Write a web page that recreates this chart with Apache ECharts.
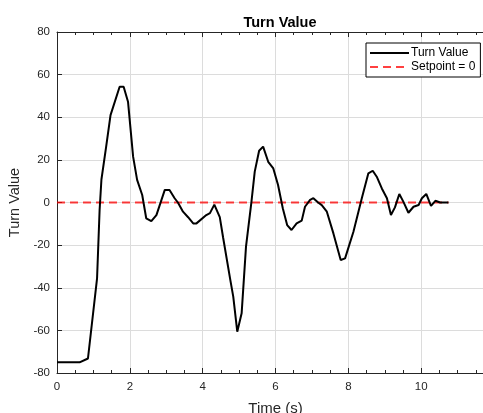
<!DOCTYPE html>
<html>
<head>
<meta charset="utf-8">
<script src="https://cdn.jsdelivr.net/npm/echarts@6/dist/echarts.min.js"></script>
<style>html,body{margin:0;padding:0;background:#fff;overflow:hidden;}#c{width:483px;height:413px;}</style>
</head>
<body>
<div id="c"></div>
<script>
var times = [0, 0.62, 0.85, 1.10, 1.17, 1.22, 1.35, 1.47, 1.72, 1.83, 1.95, 2.09, 2.20, 2.34, 2.45, 2.59, 2.73, 2.96, 3.09, 3.23, 3.32, 3.46, 3.60, 3.74, 3.83, 4.10, 4.20, 4.32, 4.47, 4.56, 4.76, 4.84, 4.95, 5.07, 5.19, 5.34, 5.43, 5.55, 5.66, 5.80, 5.94, 6.07, 6.20, 6.32, 6.44, 6.58, 6.72, 6.81, 6.95, 7.04, 7.17, 7.27, 7.41, 7.59, 7.79, 7.91, 8.14, 8.37, 8.55, 8.67, 8.78, 8.92, 9.06, 9.17, 9.28, 9.40, 9.51, 9.65, 9.79, 9.93, 10.02, 10.14, 10.27, 10.39, 10.52, 10.75];
var turnValues = [-75, -75, -73.2, -35.6, -3.5, 10.8, 26.2, 41, 54.3, 54.3, 47.3, 21.5, 10.6, 3.5, -7.4, -8.7, -5.9, 5.9, 5.9, 2, 0, -4.3, -6.9, -9.8, -9.8, -5.9, -5, -1, -6.9, -16.3, -36.4, -44.2, -60.6, -52, -20.7, 0.4, 14.5, 24.3, 26.2, 19.1, 16, 8.2, -2.7, -10.6, -12.9, -9.8, -8.5, -2, 1.2, 2, 0, -1.2, -4.3, -14.5, -27, -26.2, -13.7, 2, 13.7, 14.9, 12.1, 6.6, 2, -5.9, -2.3, 4, 0.4, -4.8, -2, -1.2, 2, 4, -1.6, 0.8, 0, 0];
var setpointTimes = [0, 10.75];
var setpointValues = [0, 0];
var xTicks = [0, 2, 4, 6, 8, 10, 12];
var yTicks = [-80, -60, -40, -20, 0, 20, 40, 60, 80];

var turnData = times.map(function (t, i) { return [t, turnValues[i]]; });
var setData = setpointTimes.map(function (t, i) { return [t, setpointValues[i]]; });

var FONT = 'Liberation Sans, Arial, Helvetica, sans-serif';
var AX = '#262626';
var chart = echarts.init(document.getElementById('c'), null, { renderer: 'canvas' });
chart.setOption({
  animation: false,
  backgroundColor: '#ffffff',
  title: {
    text: 'Turn Value', left: 275, top: 10, textAlign: 'center',
    textStyle: { fontFamily: FONT, fontSize: 14.5, fontWeight: 'bold', color: '#000' }
  },
  legend: {
    orient: 'vertical', left: 366, top: 43, padding: [4, 5, 4, 3],
    itemWidth: 39, itemHeight: 14, itemGap: 2,
    backgroundColor: '#fff', borderColor: '#000', borderWidth: 1, borderRadius: 0,
    itemStyle: { opacity: 0, borderWidth: 0 },
    textStyle: { fontFamily: FONT, fontSize: 12, color: '#000', padding: [0, 0, 0, -3] },
    data: ['Turn Value', 'Setpoint = 0']
  },
  grid: { left: 57, width: 437, top: 32, bottom: 40, containLabel: false, outerBoundsMode: 'none' },
  xAxis: [{
    type: 'value', min: xTicks[0], max: xTicks[xTicks.length - 1], interval: 2,
    name: 'Time (s)', nameLocation: 'middle', nameGap: 28,
    nameTextStyle: { fontFamily: FONT, fontSize: 15, color: AX },
    axisLine: { show: true, onZero: false, lineStyle: { color: AX, width: 1 } },
    axisTick: { show: true, inside: true, length: 5, lineStyle: { color: AX } },
    minorTick: { show: true, splitNumber: 4, length: 3, lineStyle: { color: AX } },
    axisLabel: { fontFamily: FONT, fontSize: 11.5, color: AX, margin: 8 },
    splitLine: { show: true, lineStyle: { color: '#dcdcdc', width: 1 } }
  }, {
    type: 'value', position: 'top', min: xTicks[0], max: xTicks[xTicks.length - 1], interval: 2,
    axisLine: { show: true, onZero: false, lineStyle: { color: AX, width: 1 } },
    axisTick: { show: true, inside: true, length: 5, lineStyle: { color: AX } },
    minorTick: { show: true, splitNumber: 4, length: 3, lineStyle: { color: AX } },
    axisLabel: { show: false }, splitLine: { show: false }
  }],
  yAxis: [{
    type: 'value', min: yTicks[0], max: yTicks[yTicks.length - 1], interval: 20,
    name: 'Turn Value', nameLocation: 'middle', nameGap: 26, nameRotate: 90,
    nameTextStyle: { fontFamily: FONT, fontSize: 14.5, color: AX },
    axisLine: { show: true, onZero: false, lineStyle: { color: AX, width: 1 } },
    axisTick: { show: true, inside: true, length: 5, lineStyle: { color: AX } },
    axisLabel: { fontFamily: FONT, fontSize: 11.5, color: AX, margin: 7 },
    splitLine: { show: true, lineStyle: { color: '#dcdcdc', width: 1 } }
  }],
  series: [{
    name: 'Turn Value', type: 'line', data: turnData, symbol: 'none',
    lineStyle: { color: '#000', width: 2 }, itemStyle: { color: '#000' }, z: 3
  }, {
    name: 'Setpoint = 0', type: 'line', data: setData, symbol: 'none',
    lineStyle: { color: 'rgba(255,0,0,0.75)', width: 2, type: [8, 5] },
    itemStyle: { color: 'rgba(255,0,0,0.75)' }, z: 2
  }]
});
</script>
</body>
</html>
